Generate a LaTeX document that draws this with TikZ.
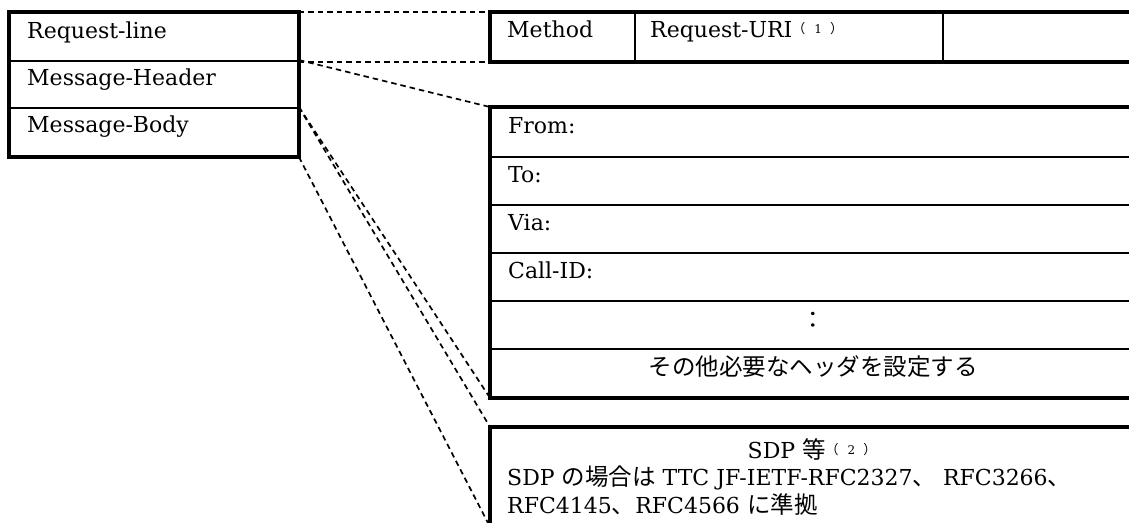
\documentclass[tikz,border=0pt]{standalone}
\usepackage{fontspec}
\setmainfont{DejaVu Serif}
\newfontfamily\cjk{Noto Sans CJK JP}
\usetikzlibrary{fit}
\newcommand{\jpt}[1]{{\cjk\fontsize{23.5}{26}\selectfont #1}}
\newcommand{\notemk}[1]{\raisebox{4pt}{{\cjk\fontsize{13}{13}\selectfont （}\hspace{9pt}{\fontsize{12}{12}\selectfont #1}\hspace{8pt}{\cjk\fontsize{13}{13}\selectfont ）}}}
\begin{document}
\begin{tikzpicture}[x=1pt,y=-1pt,
  cell/.style={draw, line width=1.9pt, inner sep=0pt},
  outer/.style={line width=3.8pt, line join=miter},
  dashln/.style={dash pattern=on 5.5pt off 4pt, line width=1.7pt},
  lbl/.style={font=\fontsize{22}{26}\selectfont, inner sep=0pt, anchor=base west}]
\useasboundingbox (0,0) rectangle (1129,522);
\fill[white] (0,0) rectangle (1129,522);
\clip (0,0) rectangle (1129,522);
% left box cells
\node[cell, fit={(10,13)(298,61)}] (rl) {};
\node[cell, fit={(10,61)(298,108)}] (mh) {};
\node[cell, fit={(10,108)(298,156)}] (mb) {};
% request line cells
\node[cell, fit={(491,13)(635,61)}] (meth) {};
\node[cell, fit={(635,13)(943,61)}] (uri) {};
\node[cell, fit={(943,13)(1140,61)}] (rest) {};
% header cells
\node[cell, fit={(491,108)(1140,157)}] (from) {};
\node[cell, fit={(491,157)(1140,205)}] (to) {};
\node[cell, fit={(491,205)(1140,253)}] (via) {};
\node[cell, fit={(491,253)(1140,301)}] (cid) {};
\node[cell, fit={(491,301)(1140,349)}] (dots) {};
\node[cell, fit={(491,349)(1140,397)}] (other) {};
% body cell
\node[cell, fit={(491,428)(1140,526)}] (body) {};
% thick outlines
\draw[outer] (rl.north west) rectangle (mb.south east);
\draw[outer] (rest.north east) -- (meth.north west) -- (meth.south west) -- (rest.south east);
\draw[outer] (other.south east) -- (other.south west) -- (from.north west) -- (from.north east);
\draw[outer] (body.south west) -- (body.north west) -- (body.north east);
% dashed connectors
\draw[dashln] (rl.north east) -- (meth.north west);
\draw[dashln] (rl.south east) -- (meth.south west);
\draw[dashln] (mh.north east) -- (from.north west);
\draw[dashln] (mb.north east) -- (other.south west);
\draw[dashln] (mb.north east) -- (body.north west);
\draw[dashln] (mb.south east) -- (body.south west);
% texts
\node[lbl] (trl) at (27,38) {Request-line};
\node[lbl] (tmh) at (27,85) {Message-Header};
\node[lbl] (tmb) at (27,132) {Message-Body};
\node[lbl] (tmeth) at (507,37) {Method};
\node[lbl] (turi) at (650,37) {Request-URI\notemk{1}};
\node[lbl] (tfrom) at (508,133) {From:};
\node[lbl] (tto) at (508,182) {To:};
\node[lbl] (tvia) at (508,230) {Via:};
\node[lbl] (tcid) at (508,278) {Call-ID:};
\node[inner sep=0pt] (tdots) at (813,320) {\jpt{：}};
\node[lbl, anchor=base] (tother) at (813,375) {\jpt{その他必要なヘッダを設定する}};
\node[lbl, anchor=base] (tsdp) at (812,458) {SDP \jpt{等}\notemk{2}};
\node[lbl] (tl2) at (507,485) {SDP \jpt{の場合は} TTC JF-IETF-RFC2327\jpt{、} RFC3266\jpt{、}};
\node[lbl] (tl3) at (507,513) {RFC4145\jpt{、}RFC4566 \jpt{に準拠}};
\end{tikzpicture}
\end{document}
